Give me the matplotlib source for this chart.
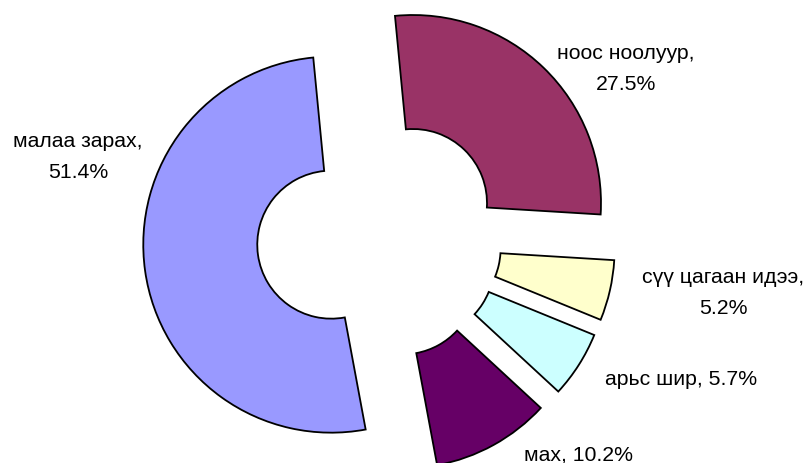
import numpy as np
import matplotlib
matplotlib.use('Agg')
import matplotlib.pyplot as plt

# data
categories = ['ноос ноолуур', 'сүү цагаан идээ', 'арьс шир', 'мах', 'малаа зарах']
shares = [27.5, 5.2, 5.7, 10.2, 51.4]
colors = ['#993366', '#FFFFCC', '#CCFFFF', '#660066', '#9999FF']

# label texts, split like in the original
label_texts = ['{},\n{}%', '{},\n{}%', '{}, {}%', '{}, {}%', '{},\n{}%']
# label centres in pixel coords (x, y from top)
label_pos = [(626, 69), (723, 293), (681, 380), (579, 455), (78, 157)]

W, H = 812, 464
fig = plt.figure(figsize=(W / 100, H / 100), dpi=100)
ax = fig.add_axes([0, 0, 1, 1])

R = 188          # outer radius in px
hole = 74        # inner radius in px
expl = 48.5      # explode offset in px
center = (379.3, H - 238.9)

ax.pie(shares, colors=colors, startangle=95.5, counterclock=False,
       radius=R, center=center, explode=[expl] * len(shares),
       wedgeprops=dict(width=R - hole, edgecolor='black', linewidth=1.3))

for cat, val, fmt, (px, py) in zip(categories, shares, label_texts, label_pos):
    ax.text(px, H - py, fmt.format(cat, val), ha='center', va='center',
            multialignment='center', fontsize=15.3, linespacing=1.75,
            family=['Liberation Sans', 'DejaVu Sans'], color='black')

ax.set_xlim(0, W)
ax.set_ylim(0, H)
ax.set_aspect('equal')
ax.axis('off')

fig.savefig('out.png', dpi=100, facecolor='white')
